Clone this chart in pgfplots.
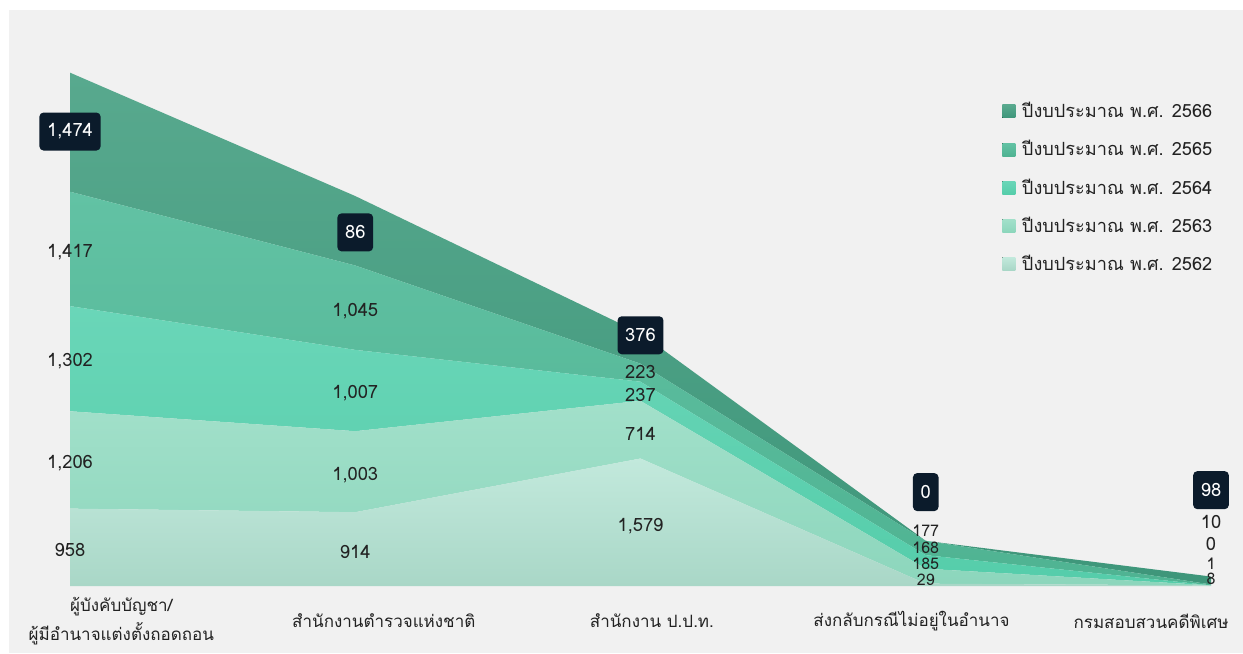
\documentclass[border=0pt]{standalone}
\usepackage{pgfplots}
\pgfplotsset{compat=1.18}
\usepackage{fontspec}
\setmainfont[Script=Thai]{Loma}
\definecolor{bggray}{HTML}{F1F1F1}
\definecolor{txt}{HTML}{222222}
\definecolor{navy}{HTML}{0B1B2B}
\definecolor{cA}{HTML}{C2E9DC}
\definecolor{cAb}{HTML}{A9D7C7}
\definecolor{cB}{HTML}{A2E0CA}
\definecolor{cBb}{HTML}{8CD6BC}
\definecolor{cC}{HTML}{6AD6B8}
\definecolor{cCb}{HTML}{55CDAA}
\definecolor{cD}{HTML}{62C2A4}
\definecolor{cDb}{HTML}{4FB392}
\definecolor{cE}{HTML}{58A98E}
\definecolor{cEb}{HTML}{3E967A}
\tikzset{
  lbl/.style={font=\fontsize{11}{13}\selectfont, text=txt, inner sep=0pt},
  slbl/.style={font=\fontsize{9.6}{11}\selectfont, text=txt, inner sep=0pt},
  box/.style={fill=navy, text=white, rounded corners=2.5pt, minimum height=22.8pt, inner xsep=4.6pt, font=\fontsize{11}{13}\selectfont},
}
\begin{document}
\begin{tikzpicture}[x=1pt,y=1pt]
\path[use as bounding box] (0,0) rectangle (745.8,391.8);
\fill[white] (0,0) rectangle (745.8,391.8);
\fill[bggray] (5.4,0) rectangle (745.8,385.8);
\begin{axis}[
  at={(42pt,40.2pt)}, anchor=south west,
  scale only axis, width=684.6pt, height=308pt,
  xmin=0, xmax=4, ymin=0, ymax=6357,
  stack plots=y,
  axis line style={draw=none},
  ytick=\empty,
  xtick={0.18,1.1,2.04,2.95,3.79},
  xticklabels={{ผู้บังคับบัญชา/\\ผู้มีอำนาจแต่งตั้งถอดถอน},สำนักงานตำรวจแห่งชาติ,สำนักงาน ป.ป.ท.,ส่งกลับกรณีไม่อยู่ในอำนาจ,กรมสอบสวนคดีพิเศษ},
  major tick length=0pt,
  xticklabel style={anchor=center, yshift=-21pt, align=center, font=\fontsize{10.2}{17.4}\selectfont, text=txt},
  clip=false,
  reverse legend,
  legend style={at={(0.8168,0.949)}, anchor=north west, draw=none, fill=none,
    font=\fontsize{10.9}{13}\selectfont, text=txt, row sep=8.1pt, inner sep=0pt,
    cells={anchor=west}},
  legend image code/.code={\fill[#1] (0pt,-3.9pt) rectangle (7.8pt,3.9pt);},
]
\addplot[draw=none, top color=cA, bottom color=cAb] coordinates {(0,958) (1,914) (2,1579) (3,29) (4,8)} \closedcycle;
\addlegendentry{\hspace{2pt}ปีงบประมาณ พ.ศ. 2562}
\addplot[draw=none, top color=cB, bottom color=cBb] coordinates {(0,1206) (1,1003) (2,714) (3,185) (4,1)} \closedcycle;
\addlegendentry{\hspace{2pt}ปีงบประมาณ พ.ศ. 2563}
\addplot[draw=none, top color=cC, bottom color=cCb] coordinates {(0,1302) (1,1007) (2,237) (3,168) (4,0)} \closedcycle;
\addlegendentry{\hspace{2pt}ปีงบประมาณ พ.ศ. 2564}
\addplot[draw=none, top color=cD, bottom color=cDb] coordinates {(0,1417) (1,1045) (2,223) (3,177) (4,10)} \closedcycle;
\addlegendentry{\hspace{2pt}ปีงบประมาณ พ.ศ. 2565}
\addplot[draw=none, top color=cE, bottom color=cEb] coordinates {(0,1474) (1,860) (2,376) (3,0) (4,98)} \closedcycle;
\addlegendentry{\hspace{2pt}ปีงบประมาณ พ.ศ. 2566}
\coordinate (a1) at (axis cs:0,5628);
\coordinate (a2) at (axis cs:0,4132);
\coordinate (a3) at (axis cs:0,2783);
\coordinate (a4) at (axis cs:0,1522);
\coordinate (a5) at (axis cs:0,445);
\coordinate (b1) at (axis cs:1,4379);
\coordinate (b2) at (axis cs:1,3402);
\coordinate (b3) at (axis cs:1,2387);
\coordinate (b4) at (axis cs:1,1373);
\coordinate (b5) at (axis cs:1,421);
\coordinate (c1) at (axis cs:2,3105);
\coordinate (c2) at (axis cs:2,2647);
\coordinate (c3) at (axis cs:2,2363);
\coordinate (c4) at (axis cs:2,1880);
\coordinate (c5) at (axis cs:2,742);
\coordinate (d1) at (axis cs:3,1163);
\coordinate (d2) at (axis cs:3,680);
\coordinate (d3) at (axis cs:3,475);
\coordinate (d4) at (axis cs:3,270);
\coordinate (d5) at (axis cs:3,80);
\coordinate (e1) at (axis cs:4,1187);
\coordinate (e2) at (axis cs:4,792);
\coordinate (e3) at (axis cs:4,520);
\coordinate (e4) at (axis cs:4,275);
\coordinate (e5) at (axis cs:4,90);
\end{axis}
\node[box] at (a1) {1,474};
\node[lbl] at (a2) {1,417};
\node[lbl] at (a3) {1,302};
\node[lbl] at (a4) {1,206};
\node[lbl] at (a5) {958};
\node[box] at (b1) {86};
\node[lbl] at (b2) {1,045};
\node[lbl] at (b3) {1,007};
\node[lbl] at (b4) {1,003};
\node[lbl] at (b5) {914};
\node[box] at (c1) {376};
\node[lbl] at (c2) {223};
\node[lbl] at (c3) {237};
\node[lbl] at (c4) {714};
\node[lbl] at (c5) {1,579};
\node[box] at (d1) {0};
\node[slbl] at (d2) {177};
\node[slbl] at (d3) {168};
\node[slbl] at (d4) {185};
\node[slbl] at (d5) {29};
\node[box] at (e1) {98};
\node[lbl] at (e2) {10};
\node[lbl] at (e3) {0};
\node[slbl] at (e4) {1};
\node[slbl] at (e5) {8};
\end{tikzpicture}
\end{document}
